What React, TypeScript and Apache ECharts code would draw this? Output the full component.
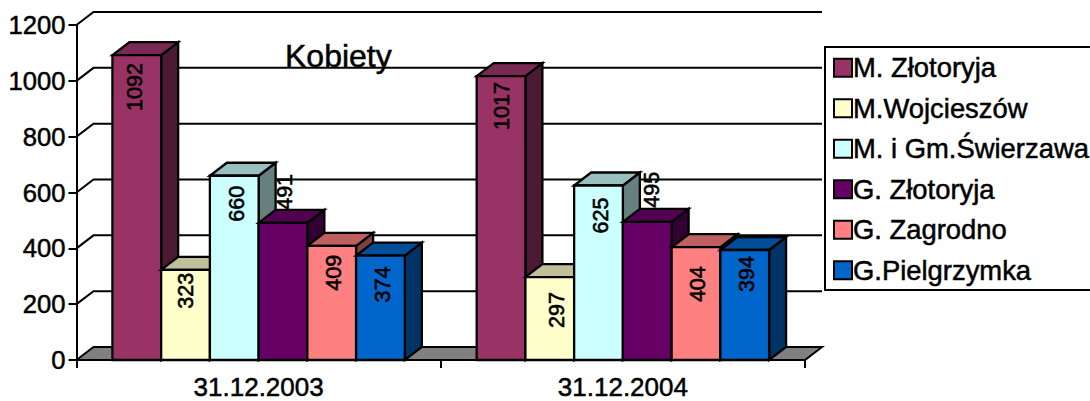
import React, { useEffect, useRef } from "react";
import * as echarts from "echarts";

const categories = ["31.12.2003", "31.12.2004"];
const seriesNames = ["M. Złotoryja", "M.Wojcieszów", "M. i Gm.Świerzawa", "G. Złotoryja", "G. Zagrodno", "G.Pielgrzymka"];
const zlotoryjaM = [1092, 1017];
const wojcieszow = [323, 297];
const swierzawa = [660, 625];
const zlotoryjaG = [491, 495];
const zagrodno = [409, 404];
const pielgrzymka = [374, 394];
const seriesValues = [zlotoryjaM, wojcieszow, swierzawa, zlotoryjaG, zagrodno, pielgrzymka];
const frontColors = ["#993366", "#FFFFCC", "#CCFFFF", "#660066", "#FF8080", "#0066CC"];
const topColors = ["#7A2952", "#BFBF99", "#99BFBF", "#520052", "#BF6060", "#004D99"];
const sideColors = ["#4D1A33", "#808066", "#668080", "#330033", "#804040", "#003366"];
const yTicks = [0, 200, 400, 600, 800, 1000, 1200];

// Hand-placed label offsets of the original chart, [series][category], relative to the bar's top-centre.
const labelDx = [[-1.7, 1], [0.6, 7], [3, 2], [2, 5], [2.4, 2], [3, 2]];
const labelDy = [[8, 6], [3, 15], [10, 12], [-49, -50], [9, 19], [11, 6]];

const FONT = "'Liberation Sans', Arial, sans-serif";
const DX = 17;
const DY = 13;
const BAR_RATIO = 0.1338;
const EDGE = { stroke: "#000", lineWidth: 2.3, lineJoin: "miter" as const };
const HEAVY = { textBorderColor: "#000", textBorderWidth: 0.5 };

function barItem(seriesIndex: number) {
  return (params: any, api: any) => {
    const cat = api.value(0);
    const val = api.value(1);
    const [cx, top] = api.coord([cat, val]);
    const [, base] = api.coord([cat, 0]);
    const band = api.size([1, 0])[0];
    const w = band * BAR_RATIO;
    const x = cx - 3 * w + seriesIndex * w;
    return {
      type: "group",
      children: [
        { type: "polygon", shape: { points: [[x + w, top], [x + w + DX, top - DY], [x + w + DX, base - DY], [x + w, base]] }, style: { fill: sideColors[seriesIndex], ...EDGE } },
        { type: "polygon", shape: { points: [[x, top], [x + DX, top - DY], [x + w + DX, top - DY], [x + w, top]] }, style: { fill: topColors[seriesIndex], ...EDGE } },
        { type: "rect", shape: { x, y: top, width: w, height: base - top }, style: { fill: frontColors[seriesIndex], ...EDGE } },
        {
          type: "text",
          x: x + w / 2 + labelDx[seriesIndex][cat],
          y: top + labelDy[seriesIndex][cat],
          rotation: Math.PI / 2,
          style: { text: String(val), fill: "#000", font: `21.5px ${FONT}`, textAlign: "right", textVerticalAlign: "middle", stroke: "#000", lineWidth: 0.6 },
        },
      ],
    };
  };
}

function frameItem(params: any, api: any) {
  const tick = api.value(1);
  const y = api.coord([0, tick])[1];
  const { x: x0, width } = params.coordSys;
  const x1 = x0 + width;
  const line = { type: "polyline", shape: { points: [[x0, y], [x0 + DX, y - DY], [x1 + DX, y - DY]] }, style: { fill: "none", stroke: "#000", lineWidth: 2 } };
  if (tick !== 0) return line;
  return {
    type: "polygon",
    shape: { points: [[x0, y], [x0 + DX, y - DY], [x1 + DX, y - DY], [x1, y]] },
    style: { fill: "#808080", stroke: "#000", lineWidth: 2 },
  };
}

export default function App() {
  const ref = useRef<HTMLDivElement>(null);
  useEffect(() => {
    const chart = echarts.init(ref.current!, undefined, { renderer: "svg" });
    chart.setOption({
      animation: false,
      backgroundColor: "#fff",
      textStyle: { fontFamily: FONT },
      title: {
        text: "Kobiety",
        left: 285,
        top: 40,
        padding: 0,
        z: 20,
        textStyle: { fontFamily: FONT, fontSize: 32, fontWeight: "normal", color: "#000", ...HEAVY },
      },
      legend: {
        orient: "vertical",
        left: 825,
        top: 47,
        padding: [7, 100, 6, 8],
        backgroundColor: "#fff",
        borderColor: "#000",
        borderWidth: 2,
        borderRadius: 0,
        itemWidth: 18,
        itemHeight: 18,
        itemGap: 13,
        icon: "rect",
        inactiveColor: "#000",
        selectedMode: false,
        itemStyle: { borderColor: "#000", borderWidth: 2 },
        textStyle: { fontFamily: FONT, fontSize: 27.4, lineHeight: 27, color: "#000", padding: [0, 0, 0, -4], ...HEAVY },
        data: seriesNames,
        z: 20,
      },
      grid: { left: 76.5, top: 25, width: 728.5, height: 335, containLabel: false, outerBoundsMode: "none" },
      xAxis: {
        type: "category",
        data: categories,
        axisLine: { show: true, lineStyle: { color: "#000", width: 2 } },
        axisTick: { show: true, length: 8, lineStyle: { color: "#000", width: 2 } },
        axisLabel: { color: "#000", fontFamily: FONT, fontSize: 26, lineHeight: 20, margin: 17, ...HEAVY },
        splitLine: { show: false },
      },
      yAxis: {
        type: "value",
        min: 0,
        max: 1200,
        interval: 200,
        axisLine: { show: true, lineStyle: { color: "#000", width: 2 } },
        axisTick: { show: true, length: 8, lineStyle: { color: "#000", width: 2 } },
        axisLabel: { color: "#000", fontFamily: FONT, fontSize: 25.6, margin: 11, formatter: (v: number) => String(v), ...HEAVY },
        splitLine: { show: false },
      },
      series: [
        {
          type: "custom",
          name: "frame",
          z: 1,
          clip: false,
          silent: true,
          renderItem: frameItem,
          data: yTicks.map((t) => [0, t]),
        },
        ...seriesNames.map((name, i) => ({
          type: "custom",
          name,
          z: 3,
          clip: false,
          itemStyle: { color: frontColors[i] },
          renderItem: barItem(i),
          data: seriesValues[i].map((v, c) => [c, v]),
          encode: { x: 0, y: 1 },
        })),
      ],
    });
    return () => chart.dispose();
  }, []);
  return <div ref={ref} style={{ position: "fixed", left: 0, top: 0, width: 1090, height: 401 }} />;
}
